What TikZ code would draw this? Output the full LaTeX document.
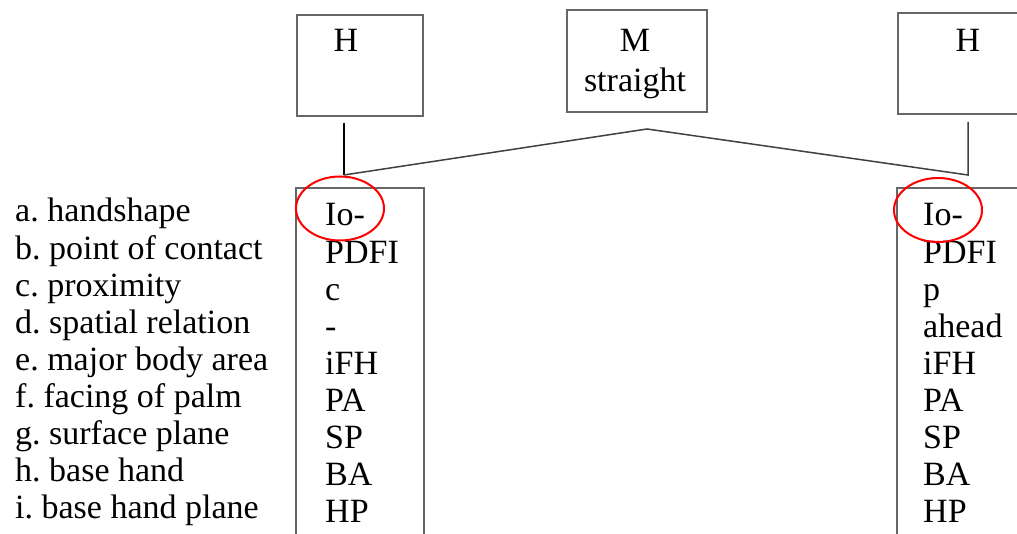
\documentclass[tikz,border=0pt]{standalone}
\usepackage{fontspec}
\setmainfont{Liberation Serif}
\frenchspacing
\begin{document}
\begin{tikzpicture}[x=1pt,y=-1pt,
  box/.style={draw=black!60,line width=1.6pt,inner sep=0pt},
  txt/.style={inner sep=0pt,anchor=base,font=\fontsize{34}{37}\selectfont},
  col/.style={inner sep=0pt,anchor=base west,font=\fontsize{34}{37}\selectfont},
  conn/.style={draw=black!75,line width=1.5pt},
  redring/.style={draw=red,line width=2pt}]
\useasboundingbox (0,0) rectangle (1017,534);
% top boxes
\draw[box] (297,15) rectangle (423,116);
\draw[box] (567,10) rectangle (707,112);
\draw[box] (898,13) rectangle (1040,114);
\node[txt] (h1) at (346,52) {H};
\node[txt] (m) at (635,52) {M};
\node[txt] (st) at (635,92) {straight};
\node[txt] (h2) at (968,52) {H};
% connectors
\coordinate (lt) at (344,123);
\coordinate (lj) at (344,175);
\coordinate (apex) at (647,129);
\coordinate (rj) at (968,175);
\coordinate (rt) at (968,122);
\draw[line width=1.5pt,black] (lt) -- (lj);
\draw[conn,line join=miter] (lj) -- (apex) -- (rj) -- (rt);
% bottom boxes
\draw[box] (296,188) rectangle (424,570);
\draw[box] (897,188) rectangle (1050,570);
% labels
\foreach \t [count=\i from 0] in {a. handshape,b. point of contact,c. proximity,d. spatial relation,e. major body area,f. facing of palm,g. surface plane,h. base hand,i. base hand plane}
  \node[col] (lab\i) at (15,222+37.1*\i) {\t};
\foreach \t [count=\i from 0] in {Io-,PDFI,c,-,iFH,PA,SP,BA,HP}
  \node[col] (l\i) at (325,226+37.1*\i) {\t};
\foreach \t [count=\i from 0] in {Io-,PDFI,p,ahead,iFH,PA,SP,BA,HP}
  \node[col] (r\i) at (923,226+37.1*\i) {\t};
% red ellipses
\draw[redring] (340,208.5) ellipse [x radius=44, y radius=32];
\draw[redring] (938,210) ellipse [x radius=44, y radius=32];
\end{tikzpicture}
\end{document}
